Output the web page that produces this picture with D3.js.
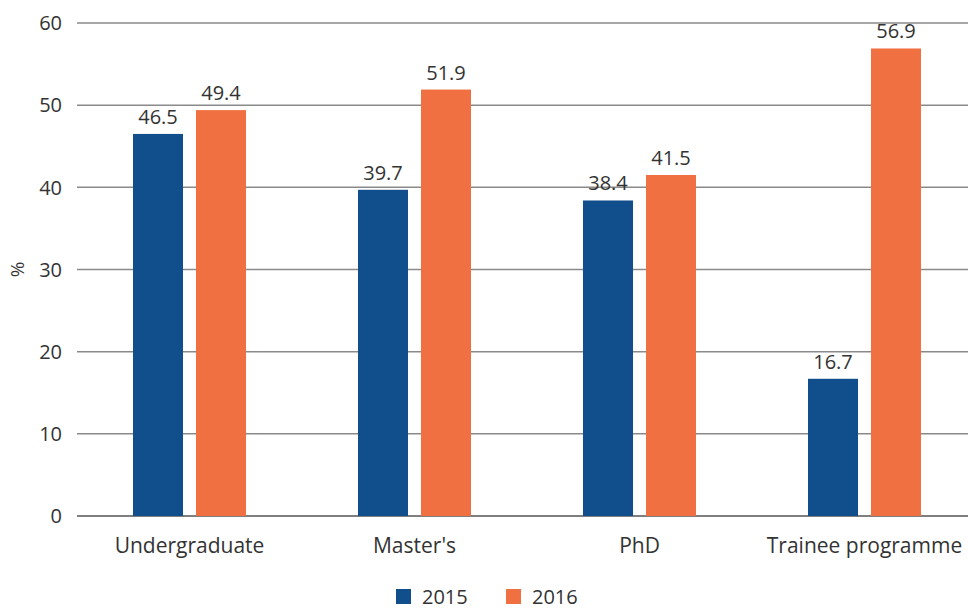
<!DOCTYPE html>
<html>
<head>
<meta charset="utf-8">
<script src="https://cdn.jsdelivr.net/npm/d3@7"></script>
<style>
  body { margin: 0; background: #fff; }
  svg { display: block; font-family: "Open Sans", sans-serif; }
</style>
</head>
<body>
<div id="chart"></div>
<script>
// ---- data ----
const categories = ["Undergraduate", "Master's", "PhD", "Trainee programme"];
const years = ["2015", "2016"];
const values2015 = [46.5, 39.7, 38.4, 16.7];
const values2016 = [49.4, 51.9, 41.5, 56.9];
const yTicks = [0, 10, 20, 30, 40, 50, 60];

const COLOR = { "2015": "#114f8c", "2016": "#f07042", text: "#333", grid: "#8a8a8a" };

const width = 968, height = 612;
const plotLeft = 77, plotTop = 23, plotBottom = 516;

const rows = categories.map((c, i) => ({ cat: c, "2015": values2015[i], "2016": values2016[i] }));

const x0 = d3.scaleBand().domain(categories).range([plotLeft, plotLeft + 900]);
// two bars of ~50px with a ~13px gap, centred on the category
const x1 = d3.scaleBand().domain(years).range([-56.5, 56.5]).paddingInner(0.206);
const y = d3.scaleLinear().domain([0, 60]).range([plotBottom, plotTop]);

const svg = d3.select("#chart").append("svg")
  .attr("width", width).attr("height", height);

// gridlines
svg.append("g").selectAll("line").data(yTicks).join("line")
  .attr("x1", plotLeft).attr("x2", width)
  .attr("y1", d => y(d)).attr("y2", d => y(d))
  .attr("stroke", d => d === 0 ? "#555" : COLOR.grid)
  .attr("stroke-width", 1.5);

// y tick labels
svg.append("g").selectAll("text").data(yTicks).join("text")
  .attr("x", 62).attr("y", d => y(d)).attr("dy", "0.36em")
  .attr("text-anchor", "end").attr("font-size", 20).attr("fill", COLOR.text)
  .text(d => d);

svg.append("text")
  .attr("transform", `translate(24,${(plotTop + plotBottom) / 2}) rotate(-90)`)
  .attr("text-anchor", "middle").attr("font-size", 19).attr("fill", COLOR.text)
  .text("%");

// bars
const groups = svg.append("g").selectAll("g").data(rows).join("g")
  .attr("transform", d => `translate(${x0(d.cat) + x0.bandwidth() / 2},0)`);

groups.selectAll("rect").data(d => years.map(k => ({ k, v: d[k] }))).join("rect")
  .attr("x", d => x1(d.k)).attr("width", x1.bandwidth())
  .attr("y", d => y(d.v)).attr("height", d => y(0) - y(d.v))
  .attr("fill", d => COLOR[d.k]);

groups.selectAll("text").data(d => years.map(k => ({ k, v: d[k] }))).join("text")
  .attr("x", d => x1(d.k) + x1.bandwidth() / 2)
  .attr("y", d => y(d.v) - 10)
  .attr("text-anchor", "middle").attr("font-size", 20).attr("fill", COLOR.text)
  .text(d => d.v.toFixed(1));

// category labels
svg.append("g").selectAll("text").data(categories).join("text")
  .attr("x", d => x0(d) + x0.bandwidth() / 2).attr("y", 553)
  .attr("text-anchor", "middle").attr("font-size", 21).attr("fill", COLOR.text)
  .text(d => d);

// legend
const legend = svg.append("g").selectAll("g").data(years).join("g")
  .attr("transform", (d, i) => `translate(${396 + i * 110},589)`);
legend.append("rect").attr("width", 15).attr("height", 15).attr("fill", d => COLOR[d]);
legend.append("text").attr("x", 26).attr("y", 15)
  .attr("font-size", 20).attr("fill", COLOR.text).text(d => d);
</script>
</body>
</html>
